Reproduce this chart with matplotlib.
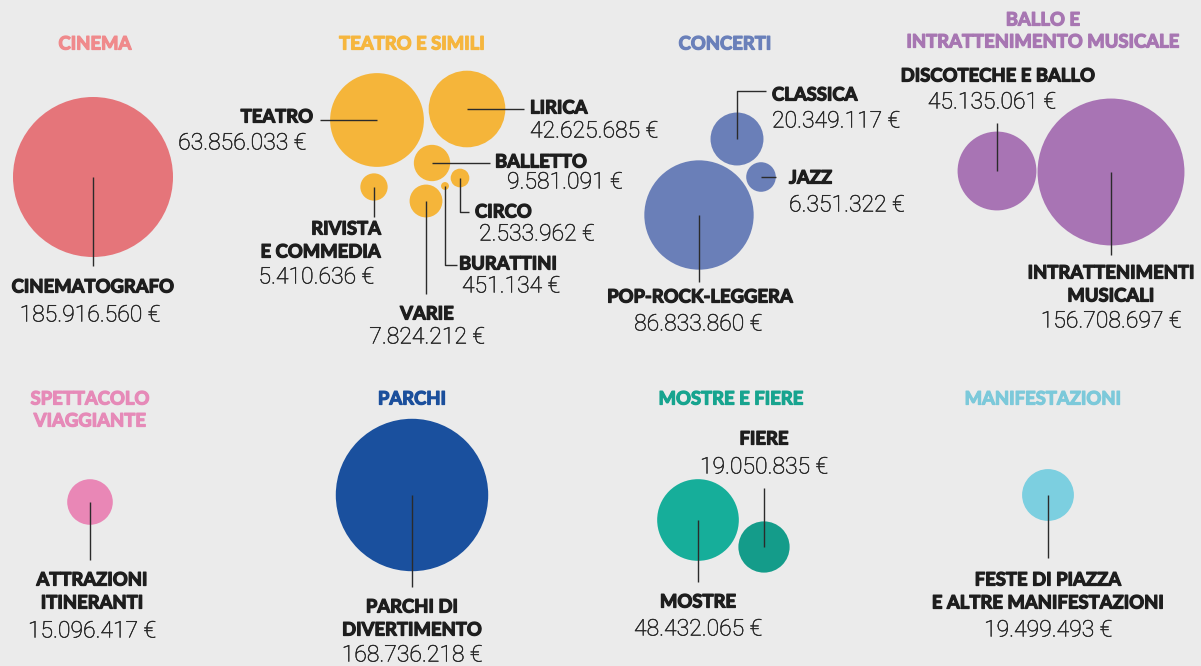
import matplotlib.pyplot as plt
import matplotlib.patheffects as pe
from matplotlib.patches import Circle
import numpy as np

W, H = 1201, 666
BG = "#ebebeb"

# dati
group_titles = ["CINEMA", "TEATRO E SIMILI", "CONCERTI", "BALLO E\nINTRATTENIMENTO MUSICALE",
                "SPETTACOLO\nVIAGGIANTE", "PARCHI", "MOSTRE E FIERE", "MANIFESTAZIONI"]
title_colors = ["#f08a8c", "#f6b63e", "#6a80ba", "#a776b2",
                "#e68ab8", "#1b4f9c", "#17a48f", "#7cc9da"]

categories = ["CINEMATOGRAFO", "TEATRO", "LIRICA", "BALLETTO", "CIRCO", "BURATTINI",
              "RIVISTA\nE COMMEDIA", "VARIE", "CLASSICA", "JAZZ", "POP-ROCK-LEGGERA",
              "DISCOTECHE E BALLO", "INTRATTENIMENTI\nMUSICALI", "ATTRAZIONI\nITINERANTI",
              "PARCHI DI\nDIVERTIMENTO", "MOSTRE", "FIERE",
              "FESTE DI PIAZZA\nE ALTRE MANIFESTAZIONI"]
values = [185916560, 63856033, 42625685, 9581091, 2533962, 451134,
          5410636, 7824212, 20349117, 6351322, 86833860,
          45135061, 156708697, 15096417,
          168736218, 48432065, 19050835,
          19499493]
group_of = [0, 1, 1, 1, 1, 1, 1, 1, 2, 2, 2, 3, 3, 4, 5, 6, 6, 7]

# layout in pixel: centro, linea guida, posizione nome, posizione valore, allineamento
layout = {
    "CINEMATOGRAFO": ((93, 177), [(93, 266)], (93, 287), (90, 315), "center"),
    "TEATRO": ((377, 120), [(320, 120)], (313, 117), (306, 143), "right"),
    "LIRICA": ((467, 109), [(524, 109)], (530, 108), (530, 131), "left"),
    "BALLETTO": ((432, 163), [(490, 163)], (495, 162), (507, 182), "left"),
    "CIRCO": ((460, 178), [(460, 212), (469, 212)], (475, 212), (479, 234), "left"),
    "BURATTINI": ((445, 186), [(445, 265), (457, 265)], (459, 264), (462, 286), "left"),
    "RIVISTA\nE COMMEDIA": ((374, 187), [(374, 217)], (381, 229), (374, 277), "right"),
    "VARIE": ((426, 201), [(426, 294)], (427, 314), (427, 337), "center"),
    "CLASSICA": ((737, 139), [(737, 91), (766, 91)], (772, 95), (772, 121), "left"),
    "JAZZ": ((761, 177), [(776, 177)], (789, 178), (789, 205), "left"),
    "POP-ROCK-LEGGERA": ((699, 215), [(699, 282)], (700, 297), (698, 324), "center"),
    "DISCOTECHE E BALLO": ((997, 171), [(997, 123)], (998, 76), (992, 102), "center"),
    "INTRATTENIMENTI\nMUSICALI": ((1111, 172), [(1111, 255)], (1111, 273), (1111, 321), "center"),
    "ATTRAZIONI\nITINERANTI": ((90, 502), [(90, 560)], (92, 580), (92, 631), "center"),
    "PARCHI DI\nDIVERTIMENTO": ((412, 495), [(412, 587)], (412, 607), (412, 655), "center"),
    "MOSTRE": ((698, 520), [(698, 582)], (698, 602), (698, 629), "center"),
    "FIERE": ((764, 547), [(764, 488)], (764, 439), (764, 467), "center"),
    "FESTE DI PIAZZA\nE ALTRE MANIFESTAZIONI": ((1048, 495), [(1048, 558)], (1048, 580), (1048, 630), "center"),
}
title_pos = [(95, 44), (412, 44), (725, 44), (1043, 20),
             (90, 399), (412, 399), (731, 399), (1043, 399)]
bubble_colors = ["#e5757a", "#f5b53a", "#6a7fb8", "#a874b4",
                 "#e987b6", "#1a509e", "#16ae9a", "#7ccfe0"]

R_MAX = 80  # raggio in pixel del valore massimo
LINE = 23

fig = plt.figure(figsize=(W / 100, H / 100), dpi=100, facecolor=BG)
ax = fig.add_axes([0, 0, 1, 1])
ax.set_xlim(0, W)
ax.set_ylim(H, 0)
ax.axis("off")
ax.set_facecolor(BG)


def heavy(c, w=0.9):
    # ispessisce un po' il Lato bold
    return [pe.withStroke(linewidth=w, foreground=c)]


vmax = max(values)
for name, v, g in zip(categories, values, group_of):
    (cx, cy), leader, (nx, ny), (vx, vy), ha = layout[name]
    r = R_MAX * np.sqrt(v / vmax)
    col = bubble_colors[g]
    if name == "FIERE":
        col = "#149c8a"
    ax.add_patch(Circle((cx, cy), r, color=col, lw=0, zorder=1))
    xs = [cx] + [p[0] for p in leader]
    ys = [cy] + [p[1] for p in leader]
    ax.plot(xs, ys, color="#2b2b2b", lw=1.0, zorder=2, solid_capstyle="butt")
    for i, line in enumerate(name.split("\n")):
        ax.text(nx, ny + i * LINE, line, ha=ha, va="center", fontsize=13.3,
                family="Lato", weight="bold", color="#1e1e1e",
                path_effects=heavy("#1e1e1e"))
    label = "{:,}".format(v).replace(",", ".") + " €"
    ax.text(vx, vy, label, ha=ha, va="center", fontsize=16.5,
            family="Roboto", weight="light", color="#262626",
            path_effects=heavy("#262626", 0.35))

for t, (tx, ty), c in zip(group_titles, title_pos, title_colors):
    for i, line in enumerate(t.split("\n")):
        ax.text(tx, ty + i * 22, line, ha="center", va="center", fontsize=13.3,
                family="Lato", weight="bold", color=c, path_effects=heavy(c))

fig.savefig("out.png", dpi=100, facecolor=BG)
